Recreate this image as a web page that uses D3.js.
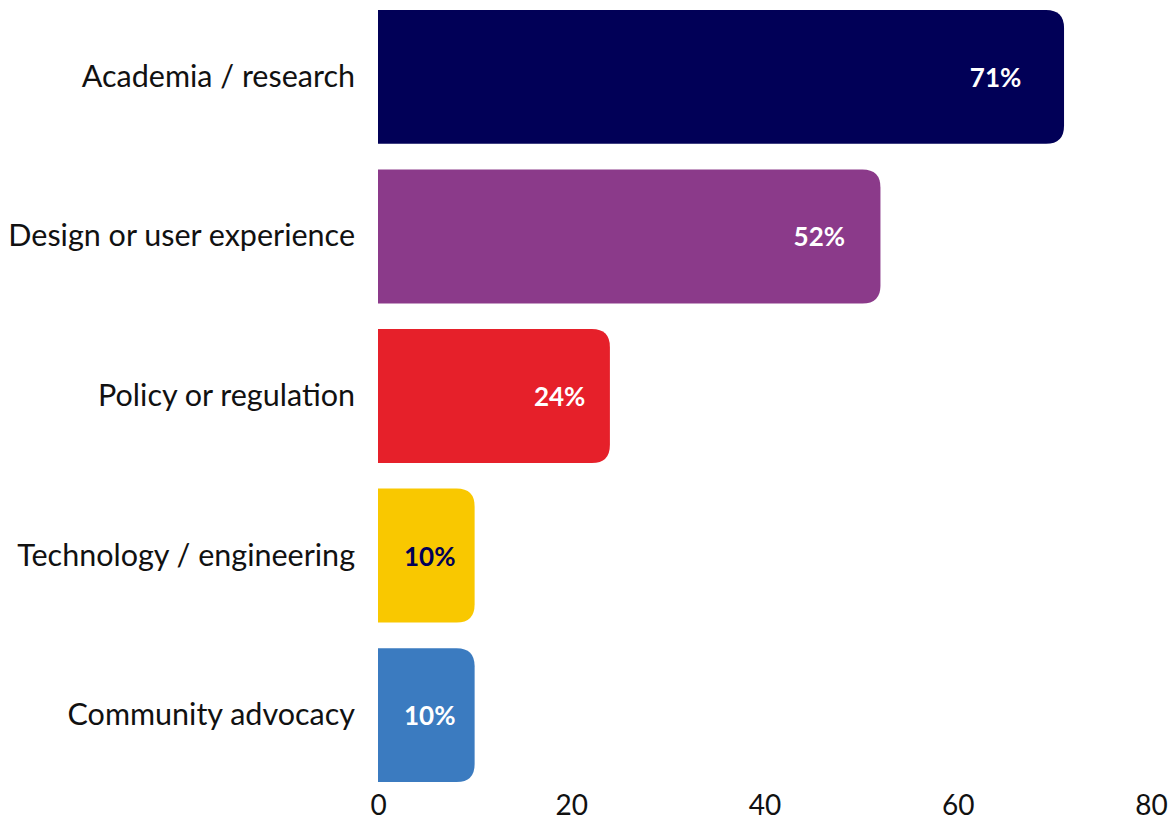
<!DOCTYPE html>
<html><head><meta charset="utf-8">
<script src="https://cdn.jsdelivr.net/npm/d3@7"></script>
<style>
html,body{margin:0;padding:0;background:#fff;}
svg{display:block;font-family:Lato,"Open Sans",sans-serif;}
</style></head>
<body>
<svg id="chart" width="1173" height="821"></svg>
<script>
const categories = ["Academia / research","Design or user experience","Policy or regulation","Technology / engineering","Community advocacy"];
const values = [71, 52, 24, 10, 10];
const barColors = ["#010057","#8B3A8A","#E6202A","#F9C800","#3B7BC0"];
const labelColors = ["#ffffff","#ffffff","#ffffff","#010057","#ffffff"];
const xTicks = [0, 20, 40, 60, 80];

const svg = d3.select("#chart");
const x = d3.scaleLinear().domain([0, 80]).range([378, 1151]);
const y = d3.scaleBand().domain(categories).range([10, 782]).paddingInner(0.161).paddingOuter(0);
const r = 18;

function barPath(x0, x1, y0, h){
  const rr = Math.min(r, (x1-x0), h/2);
  return `M${x0},${y0}H${x1-rr}Q${x1},${y0} ${x1},${y0+rr}V${y0+h-rr}Q${x1},${y0+h} ${x1-rr},${y0+h}H${x0}Z`;
}

const data = categories.map((c,i)=>({c, v:values[i], col:barColors[i], lc:labelColors[i]}));

svg.append("g").selectAll("path").data(data).join("path")
  .attr("d", d => barPath(x(0), x(d.v), y(d.c), y.bandwidth()))
  .attr("fill", d => d.col);

svg.append("g").selectAll("text").data(data).join("text")
  .attr("x", d => { const w = x(d.v) - x(0); return Math.max(x(0) + w/2, x(d.v) - 41 - 0.04*w); })
  .attr("y", d => y(d.c) + y.bandwidth()/2)
  .attr("text-anchor","middle")
  .attr("dominant-baseline","central")
  .attr("font-size", 26).attr("font-weight", 700)
  .attr("fill", d => d.lc)
  .text(d => d.v + "%");

svg.append("g").selectAll("text").data(data).join("text")
  .attr("x", x(0) - 23)
  .attr("y", d => y(d.c) + y.bandwidth()/2 - 2)
  .attr("text-anchor","end")
  .attr("dominant-baseline","central")
  .attr("font-size", 30.5)
  .attr("fill", "#111")
  .text(d => d.c);

const ax = svg.append("g").attr("transform","translate(0,782)")
  .call(d3.axisBottom(x).tickValues(xTicks).tickSize(0).tickPadding(13).tickFormat(d3.format("d")));
ax.select(".domain").remove();
ax.selectAll("text").attr("font-size", 28).attr("font-family","Lato, sans-serif").attr("fill","#111");
</script>
</body></html>
